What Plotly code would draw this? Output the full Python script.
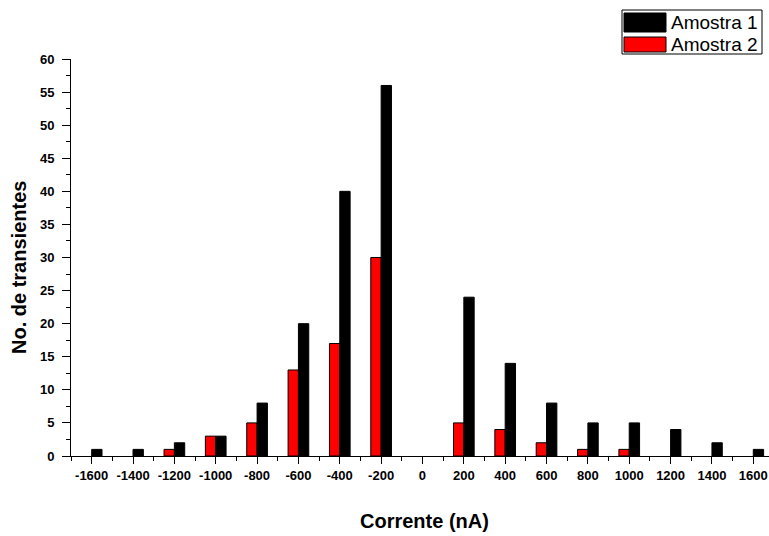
import plotly.graph_objects as go

correntes = [-1600, -1400, -1200, -1000, -800, -600, -400, -200, 0,
             200, 400, 600, 800, 1000, 1200, 1400, 1600]
amostra1 = [1, 1, 2, 3, 8, 20, 40, 56, 0, 24, 14, 8, 5, 5, 4, 2, 1]
amostra2 = [0, 0, 1, 3, 5, 13, 17, 30, 0, 5, 4, 2, 1, 1, 0, 0, 0]
nomes = ["Amostra 1", "Amostra 2"]
x_ticks = list(range(-1600, 1601, 200))
y_ticks = list(range(0, 61, 5))
titulo_x = "Corrente (nA)"
titulo_y = "No. de transientes"

FONT = "Arial, 'Liberation Sans', sans-serif"

def line_widths(vals):
    return [1 if v > 0 else 0 for v in vals]

fig = go.Figure()
fig.add_trace(go.Bar(x=correntes, y=amostra2, name=nomes[1], width=50, offset=-50,
                     marker=dict(color="#ff0000",
                                 line=dict(color="#000000", width=line_widths(amostra2))),
                     showlegend=False))
fig.add_trace(go.Bar(x=correntes, y=amostra1, name=nomes[0], width=50, offset=0,
                     marker=dict(color="#000000",
                                 line=dict(color="#000000", width=line_widths(amostra1))),
                     showlegend=False))

L, R, T, B = 71, 769, 59, 456
fig.update_layout(
    width=769, height=536,
    margin=dict(l=L, r=769 - R, t=T, b=536 - B),
    paper_bgcolor="white", plot_bgcolor="white",
    barmode="overlay",
    font=dict(family=FONT, color="black"),
    xaxis=dict(
        range=[-1700, 1676], tickmode="array", tickvals=x_ticks,
        ticktext=[str(v) for v in x_ticks],
        showgrid=False, zeroline=False, showline=True, linecolor="black", linewidth=1,
        ticks="outside", ticklen=7, tickwidth=1, tickcolor="black",
        tickfont=dict(size=13, family=FONT, weight="bold"),
        minor=dict(dtick=100, tick0=0, ticks="outside", ticklen=4, tickcolor="black", showgrid=False),
    ),
    yaxis=dict(
        range=[0, 60], tickmode="array", tickvals=y_ticks,
        showgrid=False, zeroline=False, showline=True, linecolor="black", linewidth=1,
        ticks="outside", ticklen=8, tickwidth=1, tickcolor="black",
        tickfont=dict(size=13, family=FONT, weight="bold"),
        ticklabelstandoff=5,
        minor=dict(dtick=2.5, tick0=0, ticks="outside", ticklen=4, tickcolor="black", showgrid=False),
    ),
)

def px(x, y):
    return (x - L) / (R - L), 1 - (y - T) / (B - T)

# axis titles
ax, ay = px(424, 521)
fig.add_annotation(x=ax, y=ay, xref="paper", yref="paper", text=titulo_x, showarrow=False,
                   xanchor="center", yanchor="middle",
                   font=dict(size=20, family=FONT, weight="bold", color="black"))
ax, ay = px(19, 268)
fig.add_annotation(x=ax, y=ay, xref="paper", yref="paper", text=titulo_y, showarrow=False,
                   textangle=-90, xanchor="center", yanchor="middle",
                   font=dict(size=20, family=FONT, weight="bold", color="black"))

# legend box
shapes = []
bx0, by0 = px(622, 10)
bx1, by1 = px(762, 54)
shapes.append(dict(type="rect", xref="paper", yref="paper", x0=bx0, y0=by1, x1=bx1, y1=by0,
                   line=dict(color="black", width=1), fillcolor="white", layer="above"))
for i, (col, ya, yb) in enumerate([("#000000", 13, 32), ("#ff0000", 37, 52)]):
    sx0, sy0 = px(624, ya)
    sx1, sy1 = px(666, yb)
    shapes.append(dict(type="rect", xref="paper", yref="paper", x0=sx0, y0=sy1, x1=sx1, y1=sy0,
                       line=dict(color="black", width=1), fillcolor=col, layer="above"))
    tx, ty = px(669, (ya + yb) / 2)
    fig.add_annotation(x=tx, y=ty, xref="paper", yref="paper", text=nomes[i],
                       showarrow=False, xanchor="left", yanchor="middle",
                       font=dict(size=19, family=FONT, color="black"))
fig.update_layout(shapes=shapes)

fig.write_html("out.html")
